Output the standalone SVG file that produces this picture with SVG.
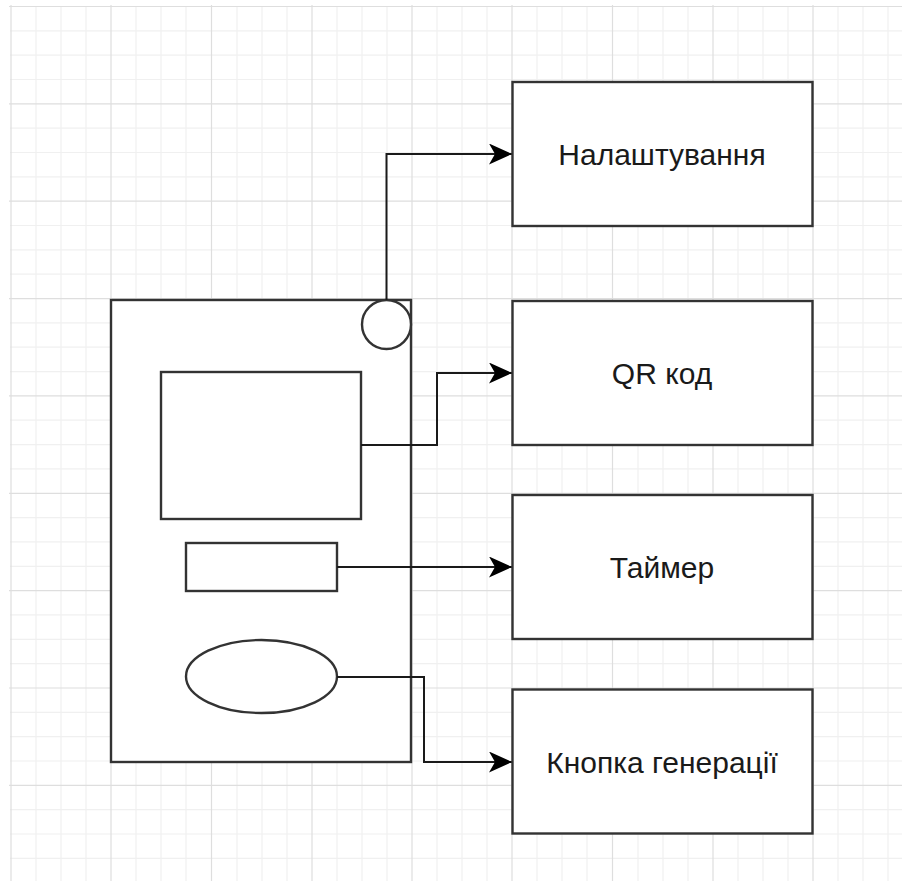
<svg xmlns="http://www.w3.org/2000/svg" width="902" height="881" viewBox="0 0 902 881">
  <defs>
    <style>
      .minor { stroke: #f0f0f0; stroke-width: 1.2; }
      .major { stroke: #dedede; stroke-width: 1.2; }
      .shape { fill: #ffffff; stroke: #333333; stroke-width: 2.4; }
      .conn { fill: none; stroke: #1a1a1a; stroke-width: 2; }
      .label { font-family: "Liberation Sans", Arial, sans-serif; font-size: 30px; fill: #1a1a1a; text-anchor: middle; }
    </style>
    <marker id="arrow" markerUnits="userSpaceOnUse" markerWidth="24" markerHeight="22" refX="23" refY="10.5" orient="auto">
      <path d="M0,0 L23,10.5 L0,21 L6,10.5 Z" fill="#000000"/>
    </marker>
  </defs>
  <rect width="902" height="881" fill="#ffffff"/>
  <g id="grid">
    <g class="minor">
      <line x1="36" y1="6" x2="36" y2="881"/><line x1="61" y1="6" x2="61" y2="881"/><line x1="86" y1="6" x2="86" y2="881"/>
      <line x1="136" y1="6" x2="136" y2="881"/><line x1="161" y1="6" x2="161" y2="881"/><line x1="186" y1="6" x2="186" y2="881"/>
      <line x1="237" y1="6" x2="237" y2="881"/><line x1="262" y1="6" x2="262" y2="881"/><line x1="287" y1="6" x2="287" y2="881"/>
      <line x1="337" y1="6" x2="337" y2="881"/><line x1="362" y1="6" x2="362" y2="881"/><line x1="387" y1="6" x2="387" y2="881"/>
      <line x1="437" y1="6" x2="437" y2="881"/><line x1="462" y1="6" x2="462" y2="881"/><line x1="487" y1="6" x2="487" y2="881"/>
      <line x1="537" y1="6" x2="537" y2="881"/><line x1="562" y1="6" x2="562" y2="881"/><line x1="587" y1="6" x2="587" y2="881"/>
      <line x1="638" y1="6" x2="638" y2="881"/><line x1="663" y1="6" x2="663" y2="881"/><line x1="688" y1="6" x2="688" y2="881"/>
      <line x1="738" y1="6" x2="738" y2="881"/><line x1="763" y1="6" x2="763" y2="881"/><line x1="788" y1="6" x2="788" y2="881"/>
      <line x1="838" y1="6" x2="838" y2="881"/><line x1="863" y1="6" x2="863" y2="881"/><line x1="888" y1="6" x2="888" y2="881"/>
      <line x1="10" y1="30.8" x2="902" y2="30.8"/><line x1="10" y1="55.2" x2="902" y2="55.2"/><line x1="10" y1="79.5" x2="902" y2="79.5"/>
      <line x1="10" y1="128.2" x2="902" y2="128.2"/><line x1="10" y1="152.5" x2="902" y2="152.5"/><line x1="10" y1="176.9" x2="902" y2="176.9"/>
      <line x1="10" y1="225.5" x2="902" y2="225.5"/><line x1="10" y1="249.9" x2="902" y2="249.9"/><line x1="10" y1="274.2" x2="902" y2="274.2"/>
      <line x1="10" y1="322.9" x2="902" y2="322.9"/><line x1="10" y1="347.2" x2="902" y2="347.2"/><line x1="10" y1="371.6" x2="902" y2="371.6"/>
      <line x1="10" y1="420.2" x2="902" y2="420.2"/><line x1="10" y1="444.6" x2="902" y2="444.6"/><line x1="10" y1="468.9" x2="902" y2="468.9"/>
      <line x1="10" y1="517.6" x2="902" y2="517.6"/><line x1="10" y1="541.9" x2="902" y2="541.9"/><line x1="10" y1="566.3" x2="902" y2="566.3"/>
      <line x1="10" y1="614.9" x2="902" y2="614.9"/><line x1="10" y1="639.3" x2="902" y2="639.3"/><line x1="10" y1="663.6" x2="902" y2="663.6"/>
      <line x1="10" y1="712.3" x2="902" y2="712.3"/><line x1="10" y1="736.6" x2="902" y2="736.6"/><line x1="10" y1="761" x2="902" y2="761"/>
      <line x1="10" y1="809.6" x2="902" y2="809.6"/><line x1="10" y1="834" x2="902" y2="834"/><line x1="10" y1="858.3" x2="902" y2="858.3"/>
    </g>
    <g class="major">
      <line x1="11" y1="5" x2="11" y2="881"/><line x1="111" y1="5" x2="111" y2="881"/><line x1="211.5" y1="5" x2="211.5" y2="881"/>
      <line x1="312" y1="5" x2="312" y2="881"/><line x1="412" y1="5" x2="412" y2="881"/><line x1="512" y1="5" x2="512" y2="881"/>
      <line x1="612.5" y1="5" x2="612.5" y2="881"/><line x1="713" y1="5" x2="713" y2="881"/><line x1="813" y1="5" x2="813" y2="881"/>
      <line x1="9" y1="6.5" x2="902" y2="6.5"/><line x1="9" y1="103.9" x2="902" y2="103.9"/><line x1="9" y1="201.2" x2="902" y2="201.2"/>
      <line x1="9" y1="298.6" x2="902" y2="298.6"/><line x1="9" y1="395.9" x2="902" y2="395.9"/><line x1="9" y1="493.3" x2="902" y2="493.3"/>
      <line x1="9" y1="590.6" x2="902" y2="590.6"/><line x1="9" y1="688" x2="902" y2="688"/><line x1="9" y1="785.3" x2="902" y2="785.3"/>
    </g>
  </g>
  <g id="phone">
    <rect class="shape" x="111" y="300" width="300" height="462"/>
  </g>
  <g id="settings-button">
    <circle class="shape" cx="386.5" cy="324.5" r="24.5"/>
  </g>
  <g id="qr-area">
    <rect class="shape" x="161" y="372" width="200" height="147"/>
  </g>
  <g id="timer-area">
    <rect class="shape" x="186" y="543" width="151" height="48"/>
  </g>
  <g id="generate-button">
    <ellipse class="shape" cx="261.5" cy="676.5" rx="75.5" ry="36.5"/>
  </g>
  <g id="connectors">
    <path class="conn" d="M386.5,300 V154 H512" marker-end="url(#arrow)"/>
    <path class="conn" d="M361,445 H437 V373 H512" marker-end="url(#arrow)"/>
    <path class="conn" d="M337,567 H512" marker-end="url(#arrow)"/>
    <path class="conn" d="M337,677 H424 V762 H512" marker-end="url(#arrow)"/>
  </g>
  <g id="box-settings">
    <rect class="shape" x="512.5" y="82" width="300" height="144"/>
    <text class="label" x="662" y="165">Налаштування</text>
  </g>
  <g id="box-qr">
    <rect class="shape" x="512.5" y="301" width="300" height="144"/>
    <text class="label" x="662" y="384">QR код</text>
  </g>
  <g id="box-timer">
    <rect class="shape" x="512.5" y="495" width="300" height="144"/>
    <text class="label" x="662" y="578">Таймер</text>
  </g>
  <g id="box-generate">
    <rect class="shape" x="512.5" y="689.5" width="300" height="144"/>
    <text class="label" x="662" y="773">Кнопка генерації</text>
  </g>
</svg>
